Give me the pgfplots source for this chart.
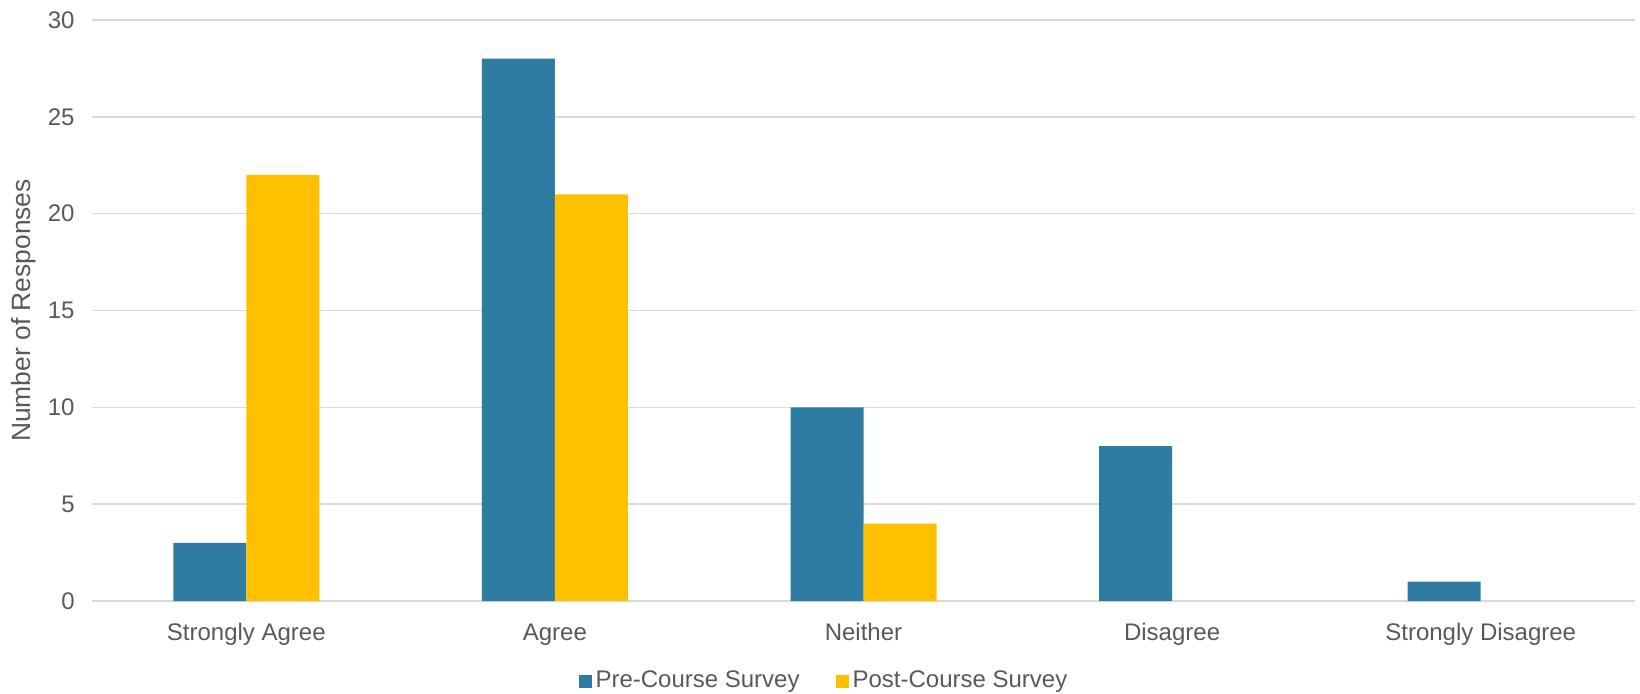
\documentclass[border=0pt]{standalone}
\usepackage{pgfplots}
\pgfplotsset{compat=1.18}
\usepackage{fontspec}
\setmainfont{Liberation Sans}
\definecolor{preblue}{HTML}{2E7CA1}
\definecolor{postyel}{HTML}{FFC000}
\definecolor{txtgray}{HTML}{595959}
\definecolor{gridgray}{HTML}{D9D9D9}
\begin{document}
\begin{tikzpicture}
\begin{axis}[
  at={(0,0)}, anchor=south west,
  scale only axis,
  width=771.5pt, height=290.5pt,
  ybar=0pt, bar width=36.5pt,
  xmin=-0.5, xmax=4.5,
  ymin=0, ymax=30,
  ytick={0,5,...,30},
  xtick={0,1,2,3,4},
  xticklabels={Strongly Agree,Agree,Neither,Disagree,Strongly Disagree},
  major tick length=0pt,
  axis line style={draw=none},
  ymajorgrids, grid style={gridgray, line width=0.8pt},
  extra y ticks={0}, extra y tick style={grid style={gridgray,line width=1.2pt}, yticklabels={}},
  tick label style={font=\fontsize{12}{14}\selectfont, text=txtgray},
  /pgf/number format/assume math mode=true,
  x tick label style={anchor=base, yshift=-19.5pt},
  y tick label style={anchor=east, inner sep=0pt, xshift=-8.5pt},
  ylabel={Number of Responses},
  every axis y label/.style={at={(axis description cs:0,0.5)}, xshift=-34pt, rotate=90, anchor=center,
    font=\fontsize{13.2}{15}\selectfont, text=txtgray},
  legend columns=2,
  legend style={at={(0.475,-0.1377)}, anchor=center, draw=none, fill=none,
    font=\fontsize{12}{14}\selectfont, text=txtgray,
    /tikz/every even column/.append style={column sep=16pt}},
  legend image code/.code={\fill[#1] (0pt,-3.25pt) rectangle (6.5pt,3.25pt);},
  enlarge x limits=false,
  clip=false,
]
\addplot[fill=preblue, draw=none] coordinates {(0,3) (1,28) (2,10) (3,8) (4,1)};
\addplot[fill=postyel, draw=none] coordinates {(0,22) (1,21) (2,4)};
\legend{Pre-Course Survey, Post-Course Survey}
\end{axis}
\pgfresetboundingbox
\path[use as bounding box] (-46pt,-46pt) rectangle (774pt,300.5pt);
\end{tikzpicture}
\end{document}
